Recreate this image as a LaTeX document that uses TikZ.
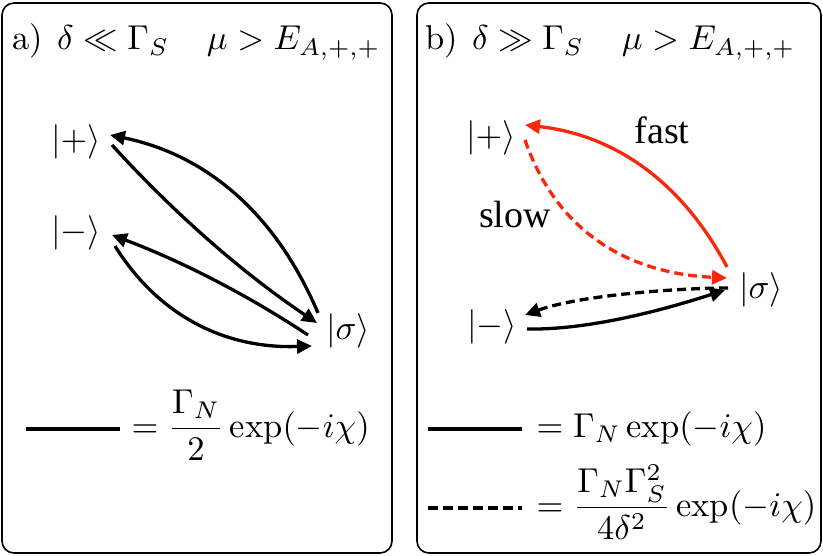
\documentclass[tikz,border=0pt]{standalone}
\usepackage{amsmath}
\usepackage{fontspec}
\newfontfamily\tnr{Liberation Serif}
\usetikzlibrary{arrows.meta}
\definecolor{myred}{RGB}{250,40,10}
\begin{document}
\begin{tikzpicture}[x=1pt,y=-1pt,
 st/.style={inner sep=0pt, scale=3.45, transform shape, font=\fontsize{10}{12}\selectfont},
 lbl/.style={inner sep=0pt, font=\fontsize{38}{44}\selectfont\tnr},
 arr/.style={line width=3.3pt, -{Triangle[length=15pt,width=14pt]}},
 dsh/.style={dash pattern=on 9pt off 5pt},
 leg/.style={line width=4pt},
 panel/.style={draw, line width=1.6pt, rounded corners=12pt}]
\useasboundingbox (0,0) rectangle (823,556);
% panels
\draw[panel] (2,3) rectangle (392,553);
\draw[panel] (417,3) rectangle (821,553);
% titles
\node[st, anchor=base west] (tita) at (12,50) {a)\hspace{0.4em}$\delta \ll \Gamma_S$\hspace{1.1em}$\mu > E_{A,+,+}$};
\node[st, anchor=base west] (titb) at (425,50) {b)\hspace{0.4em}$\delta \gg \Gamma_S$\hspace{1.1em}$\mu > E_{A,+,+}$};
% panel a states
\node[st] (pa) at (76,142) {$|+\rangle$};
\node[st] (ma) at (76,233) {$|-\rangle$};
\node[st] (sa) at (348,331) {$|\sigma\rangle$};
\draw[arr] ([shift={(-30,-18)}]sa.center) .. controls +(-42,-99) and +(97,20) .. ([shift={(34,-7)}]pa.center);
\draw[arr] ([shift={(36,3)}]pa.center) .. controls +(61,67) and +(-76,-51) .. ([shift={(-31,-8)}]sa.center);
\draw[arr] ([shift={(-40,4)}]sa.center) .. controls +(-62,-41) and +(69,26) .. ([shift={(36,2)}]ma.center);
\draw[arr] ([shift={(39,13)}]ma.center) .. controls +(43,69) and +(-88,3) .. ([shift={(-36,15)}]sa.center);
% panel a legend
\coordinate (la1) at (26,429);
\coordinate (la2) at (120,429);
\draw[leg] (la1) -- (la2);
\node[st, anchor=base west] (ta) at (131,437) {$=\dfrac{\Gamma_N}{2}\exp(-i\chi)$};
% panel b states
\node[st] (pb) at (491,138) {$|+\rangle$};
\node[st] (sb) at (761,290) {$|\sigma\rangle$};
\node[st] (mb) at (492,327) {$|-\rangle$};
\node[lbl] (fast) at (662,130) {fast};
\node[lbl] (slow) at (515,215) {slow};
\draw[arr, myred] ([shift={(-34,-23)}]sb.center) .. controls +(-45,-85) and +(90,10) .. ([shift={(34,-13)}]pb.center);
\draw[arr, myred, dsh] ([shift={(34,2)}]pb.center) .. controls +(30,87) and +(-105,-5) .. ([shift={(-34,-12)}]sb.center);
\draw[arr, dsh] ([shift={(-33,-2)}]sb.center) .. controls +(-48,0) and +(55,-20) .. ([shift={(33,-12)}]mb.center);
\draw[arr] ([shift={(35,2)}]mb.center) .. controls +(49,1) and +(-83,27) .. ([shift={(-36,0)}]sb.center);
% panel b legend
\coordinate (lb1) at (428,429);
\coordinate (lb2) at (522,429);
\coordinate (lb3) at (428,508);
\coordinate (lb4) at (522,508);
\draw[leg] (lb1) -- (lb2);
\draw[leg, dash pattern=on 10pt off 5pt] (lb3) -- (lb4);
\node[st, anchor=base west] (tb1) at (536,437) {$=\Gamma_N\exp(-i\chi)$};
\node[st, anchor=base west] (tb2) at (536,516) {$=\dfrac{\Gamma_N\Gamma_S^2}{4\delta^2}\exp(-i\chi)$};
\end{tikzpicture}
\end{document}
